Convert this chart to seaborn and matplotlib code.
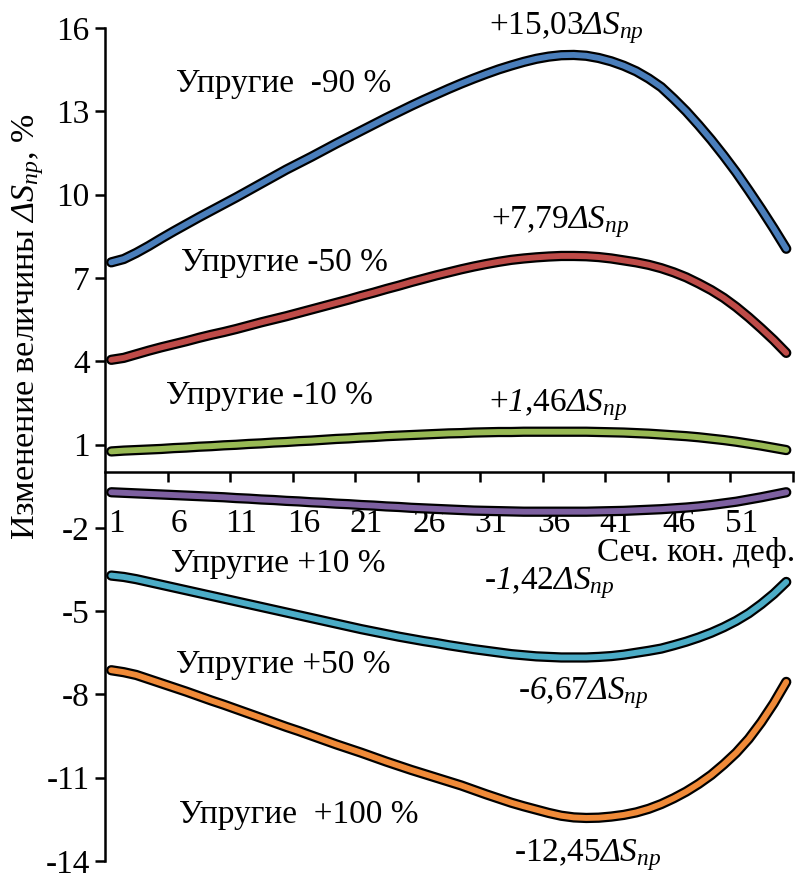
import matplotlib
matplotlib.use("Agg")
import matplotlib.pyplot as plt
import matplotlib.patheffects as pe
import seaborn as sns
import pandas as pd

# sections 1..55 and the six curves
sections = list(range(1, 56))

minus90 = [7.56, 7.68, 7.9, 8.15, 8.42, 8.68, 8.93, 9.18, 9.42, 9.66,
           9.9, 10.15, 10.4, 10.65, 10.9, 11.13, 11.36, 11.6, 11.84, 12.07,
           12.3, 12.53, 12.76, 12.98, 13.2, 13.41, 13.61, 13.81, 14.0, 14.18,
           14.35, 14.51, 14.65, 14.78, 14.89, 14.97, 15.02, 15.03, 15.0, 14.92,
           14.8, 14.64, 14.44, 14.18, 13.87, 13.45, 13.0, 12.5, 11.97, 11.4,
           10.8, 10.15, 9.48, 8.78, 8.05]
minus50 = [4.05, 4.12, 4.25, 4.38, 4.5, 4.61, 4.72, 4.84, 4.95, 5.05,
           5.16, 5.28, 5.4, 5.51, 5.62, 5.74, 5.86, 5.98, 6.1, 6.22,
           6.35, 6.47, 6.6, 6.72, 6.85, 6.97, 7.09, 7.2, 7.31, 7.41,
           7.5, 7.58, 7.65, 7.7, 7.74, 7.77, 7.79, 7.79, 7.78, 7.75,
           7.7, 7.63, 7.56, 7.47, 7.35, 7.2, 7.02, 6.8, 6.56, 6.28,
           5.95, 5.58, 5.18, 4.76, 4.3]
minus10 = [0.75, 0.78, 0.8, 0.82, 0.84, 0.87, 0.89, 0.92, 0.94, 0.97,
           0.99, 1.02, 1.04, 1.07, 1.09, 1.12, 1.14, 1.17, 1.2, 1.22,
           1.25, 1.27, 1.3, 1.32, 1.34, 1.36, 1.38, 1.4, 1.41, 1.43,
           1.44, 1.45, 1.45, 1.46, 1.46, 1.46, 1.46, 1.46, 1.46, 1.45,
           1.44, 1.43, 1.41, 1.39, 1.36, 1.33, 1.3, 1.26, 1.21, 1.16,
           1.1, 1.03, 0.96, 0.88, 0.8]
plus10 = [-0.72, -0.74, -0.76, -0.78, -0.8, -0.82, -0.84, -0.86, -0.88, -0.9,
          -0.93, -0.95, -0.98, -1.0, -1.03, -1.05, -1.08, -1.1, -1.13, -1.15,
          -1.18, -1.2, -1.23, -1.25, -1.28, -1.3, -1.32, -1.34, -1.36, -1.38,
          -1.39, -1.4, -1.41, -1.42, -1.42, -1.42, -1.42, -1.42, -1.42, -1.41,
          -1.4, -1.39, -1.37, -1.35, -1.33, -1.3, -1.27, -1.23, -1.18, -1.12,
          -1.06, -0.98, -0.9, -0.81, -0.72]
plus50 = [-3.72, -3.77, -3.85, -3.95, -4.05, -4.15, -4.25, -4.35, -4.45, -4.55,
          -4.65, -4.75, -4.85, -4.95, -5.05, -5.15, -5.25, -5.35, -5.45, -5.55,
          -5.65, -5.74, -5.83, -5.92, -6.0, -6.08, -6.15, -6.23, -6.3, -6.37,
          -6.43, -6.49, -6.55, -6.59, -6.63, -6.65, -6.67, -6.67, -6.67, -6.65,
          -6.62, -6.57, -6.5, -6.43, -6.35, -6.23, -6.1, -5.95, -5.78, -5.58,
          -5.35, -5.08, -4.75, -4.38, -3.95]
plus100 = [-7.13, -7.2, -7.3, -7.45, -7.6, -7.75, -7.9, -8.06, -8.22, -8.37,
           -8.53, -8.69, -8.85, -9.01, -9.17, -9.32, -9.48, -9.64, -9.8, -9.95,
           -10.1, -10.26, -10.42, -10.57, -10.72, -10.86, -11.0, -11.14, -11.28, -11.44,
           -11.6, -11.75, -11.9, -12.03, -12.15, -12.27, -12.37, -12.43, -12.45, -12.44,
           -12.4, -12.34, -12.25, -12.12, -11.95, -11.74, -11.5, -11.22, -10.9, -10.52,
           -10.1, -9.6, -9.0, -8.32, -7.55]

series_names = ["-90", "-50", "-10", "+10", "+50", "+100"]
series_colors = ["#4A7EBB", "#BE4B48", "#98B954", "#7D60A0", "#4BACC6", "#F08A38"]

ytick_values = [16, 13, 10, 7, 4, 1, -2, -5, -8, -11, -14]
xtick_labels = ["1", "6", "11", "16", "21", "26", "31", "36", "41", "46", "51"]

rows = []
for name, vals in zip(series_names, [minus90, minus50, minus10, plus10, plus50, plus100]):
    for s, v in zip(sections, vals):
        rows.append({"sec": s, "val": v, "series": name})
df = pd.DataFrame(rows)

sns.set_style("white")
plt.rcParams["font.family"] = ["Liberation Serif", "DejaVu Serif"]
# only italic pieces go inside $...$, so both math fonts are italic
plt.rcParams["mathtext.fontset"] = "custom"
plt.rcParams["mathtext.rm"] = "Liberation Serif:italic"
plt.rcParams["mathtext.it"] = "Liberation Serif:italic"
plt.rcParams["axes.unicode_minus"] = False
plt.rcParams["text.color"] = "black"
plt.rcParams["xtick.color"] = "black"
plt.rcParams["ytick.color"] = "black"

fig = plt.figure(figsize=(7.95, 8.77), dpi=100)
ax = fig.add_axes([105 / 795, 16 / 877, 687.5 / 795, 833 / 877])

sns.lineplot(data=df, x="sec", y="val", hue="series", hue_order=series_names,
             palette=series_colors, legend=False, ax=ax, lw=4.2,
             solid_capstyle="round", solid_joinstyle="round",
             path_effects=[pe.Stroke(linewidth=7.4, foreground="black", capstyle="round",
                                     joinstyle="round"), pe.Normal()])
for ln in ax.lines:
    ln.set_clip_on(False)

ax.set_xlim(0.5, 55.5)
ax.set_ylim(-14, 16)

for side in ["top", "right"]:
    ax.spines[side].set_visible(False)
ax.spines["bottom"].set_position(("data", 0))
for side in ["left", "bottom"]:
    ax.spines[side].set_linewidth(1.8)
    ax.spines[side].set_color("black")

ax.set_yticks(ytick_values)
ax.set_yticklabels([str(v) for v in ytick_values])
ax.tick_params(axis="y", which="major", direction="out", length=7, width=1.8,
               labelsize=24, pad=4, left=True, colors="black")

# tick marks between groups of five sections, labels under the sections
ax.set_xticks([5.5 + 5 * i for i in range(11)])
ax.set_xticklabels([])
ax.set_xticks([int(t) + 0.4 for t in xtick_labels], minor=True)
ax.set_xticklabels(xtick_labels, minor=True)
ax.tick_params(axis="x", which="major", direction="out", length=7, width=1.8,
               bottom=True, colors="black")
ax.tick_params(axis="x", which="minor", length=0, labelsize=24, pad=26, colors="black")
ax.set_xlabel("")
ax.set_ylabel("")

fs = 24
ds = r"$ΔS_{пр}$"
ax.text(6.2, 14.0, "Упругие  -90 %", fontsize=fs, va="center", ha="left")
ax.text(31.2, 16.0, "+15,03" + ds, fontsize=fs, va="center", ha="left")
ax.text(6.6, 7.56, "Упругие -50 %", fontsize=fs, va="center", ha="left")
ax.text(31.4, 9.0, "+7,79" + ds, fontsize=fs, va="center", ha="left")
ax.text(5.4, 2.74, "Упругие -10 %", fontsize=fs, va="center", ha="left")
ax.text(31.2, 2.41, "+$1$,46" + ds, fontsize=fs, va="center", ha="left")
ax.text(5.8, -3.28, "Упругие +10 %", fontsize=fs, va="center", ha="left")
ax.text(30.8, -4.0, "-$1$,42" + ds, fontsize=fs, va="center", ha="left")
ax.text(55.7, -2.88, "Сеч. кон. деф.", fontsize=fs, va="center", ha="right")
ax.text(6.2, -6.95, "Упругие +50 %", fontsize=fs, va="center", ha="left")
ax.text(33.5, -7.96, "-$6$,67" + ds, fontsize=fs, va="center", ha="left")
ax.text(6.4, -12.35, "Упругие  +100 %", fontsize=fs, va="center", ha="left")
ax.text(33.2, -13.79, "-12,45" + ds, fontsize=fs, va="center", ha="left")

fig.text(28 / 795, 1 - 327 / 877, "Изменение величины " + ds + ", %",
         fontsize=24.5, rotation=90, va="center", ha="center")

fig.savefig("out.png", dpi=100)
